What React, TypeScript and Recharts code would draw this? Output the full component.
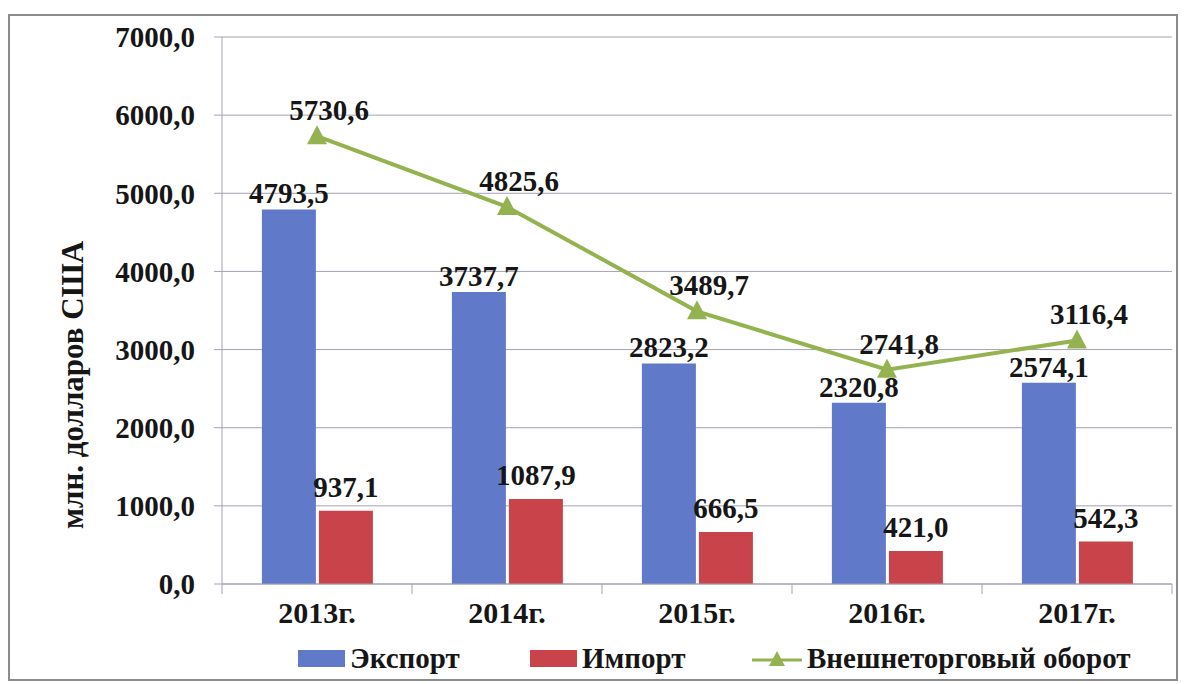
import {
  ComposedChart, Bar, Line, XAxis, YAxis, CartesianGrid, Legend, LabelList,
} from 'recharts';

// внешнеторговый оборот, млн. долларов США
const YEARS = ['2013г.', '2014г.', '2015г.', '2016г.', '2017г.'];
const EXPORT = [4793.5, 3737.7, 2823.2, 2320.8, 2574.1];
const IMPORT = [937.1, 1087.9, 666.5, 421.0, 542.3];
const TURNOVER = [5730.6, 4825.6, 3489.7, 2741.8, 3116.4];
const Y_TICKS = [0, 1000, 2000, 3000, 4000, 5000, 6000, 7000];

const DATA = YEARS.map((year, i) => ({
  year, export: EXPORT[i], import: IMPORT[i], turnover: TURNOVER[i],
}));

const BLUE = '#6179c9';
const RED = '#c8444a';
const GREEN = '#94b350';
const GRID = '#a3a3b3';
const FONT = "'Liberation Serif', 'Times New Roman', serif";

const fmt = (v: number) => v.toFixed(1).replace('.', ',');

const labelStyle = { fontFamily: FONT, fontSize: 29, fontWeight: 700, fill: '#161616' };

function Triangle({ cx, cy }: { cx?: number; cy?: number }) {
  if (cx == null || cy == null) return null;
  return (
    <polygon
      points={`${cx},${cy - 11} ${cx + 10},${cy + 8} ${cx - 10},${cy + 8}`}
      fill={GREEN}
    />
  );
}

function YearTick({ x, y, payload, index }: any) {
  const half = 95;
  return (
    <g>
      <line x1={x - half} y1={y - 8} x2={x - half} y2={y + 2} stroke={GRID} />
      {index === YEARS.length - 1 && (
        <line x1={x + half} y1={y - 8} x2={x + half} y2={y + 2} stroke={GRID} />
      )}
      <text x={x} y={y + 31} textAnchor="middle" fontFamily={FONT} fontSize={30} fontWeight={700} fill="#161616">
        {payload.value}
      </text>
    </g>
  );
}

function LegendBox() {
  const item = {
    display: 'flex', alignItems: 'center', fontFamily: FONT, fontSize: 29,
    fontWeight: 700, color: '#161616',
  } as const;
  return (
    <div style={{ display: 'flex', paddingLeft: 298, marginTop: 2 }}>
      <div style={{ ...item, width: 232 }}>
        <span style={{ width: 47, height: 17, background: BLUE, marginRight: 5 }} />Экспорт
      </div>
      <div style={{ ...item, width: 222 }}>
        <span style={{ width: 47, height: 17, background: RED, marginRight: 5 }} />Импорт
      </div>
      <div style={item}>
        <svg width={50} height={22} style={{ marginRight: 5 }}>
          <line x1={0} y1={12} x2={50} y2={12} stroke={GREEN} strokeWidth={3} />
          <polygon points="25,3 33,18 17,18" fill={GREEN} />
        </svg>
        Внешнеторговый оборот
      </div>
    </div>
  );
}

export default function App() {
  return (
    <div style={{ position: 'fixed', left: 0, top: 0, width: 1185, height: 684, background: '#fff' }}>
      <div
        style={{
          position: 'absolute', left: 8, top: 14, width: 1166, height: 663,
          border: '2px solid #8c8c8c',
        }}
      />
      <div style={{ position: 'absolute', left: 0, top: 0 }}>
        <ComposedChart
          width={1185}
          height={684}
          data={DATA}
          margin={{ top: 37, right: 13, left: 0, bottom: 4 }}
          barCategoryGap="21%"
          barGap={3}
        >
          <CartesianGrid stroke={GRID} vertical={false} />
          <XAxis
            dataKey="year"
            stroke={GRID}
            tickLine={false}
            tick={<YearTick />}
            height={56}
            interval={0}
          />
          <YAxis
            domain={[0, 7000]}
            ticks={Y_TICKS}
            interval={0}
            width={222}
            stroke={GRID}
            tickSize={8}
            tickMargin={19}
            tickFormatter={fmt}
            tick={{ ...labelStyle }}
            label={{
              content: () => (
                <text
                  x={72}
                  y={385}
                  transform="rotate(-90 72 385)"
                  textAnchor="middle"
                  dominantBaseline="central"
                  fontFamily={FONT}
                  fontSize={31}
                  fontWeight={700}
                  fill="#161616"
                >
                  млн. долларов США
                </text>
              ),
            }}
          />
          <Legend verticalAlign="bottom" height={40} content={<LegendBox />} />
          <Bar dataKey="export" fill={BLUE} isAnimationActive={false}>
            <LabelList dataKey="export" position="top" offset={6} formatter={fmt} style={labelStyle} />
          </Bar>
          <Bar dataKey="import" fill={RED} isAnimationActive={false}>
            <LabelList dataKey="import" position="top" offset={14} formatter={fmt} style={labelStyle} />
          </Bar>
          <Line
            dataKey="turnover"
            stroke={GREEN}
            strokeWidth={4}
            dot={<Triangle />}
            activeDot={false}
            isAnimationActive={false}
          >
            <LabelList
              dataKey="turnover"
              position="top"
              offset={16}
              formatter={fmt}
              style={labelStyle}
              content={(p: any) => (
                <text
                  x={p.x + 12}
                  y={p.y - p.offset}
                  textAnchor="middle"
                  fontFamily={FONT}
                  fontSize={29}
                  fontWeight={700}
                  fill="#161616"
                >
                  {fmt(p.value)}
                </text>
              )}
            />
          </Line>
        </ComposedChart>
      </div>
    </div>
  );
}
